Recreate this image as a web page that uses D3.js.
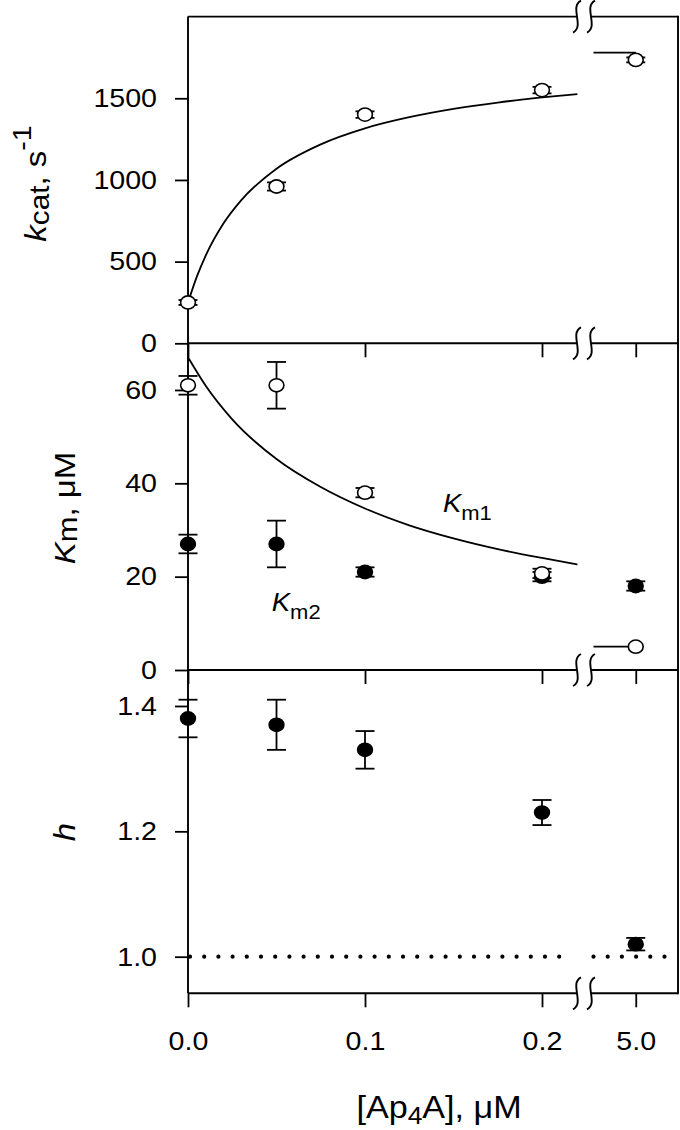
<!DOCTYPE html>
<html>
<head>
<meta charset="utf-8">
<script src="https://cdn.jsdelivr.net/npm/d3@7"></script>
<style>
  body { margin: 0; background: #fff; }
  svg { display: block; }
  text { font-family: "Liberation Sans", Arial, sans-serif; fill: #000; }
</style>
</head>
<body>
<div id="chart"></div>
<script>
// concentrations of Ap4A (uM)
const ap4a = [0, 0.05, 0.1, 0.2, 5.0]

// kcat, s-1
const kcat = [250, 960, 1400, 1550, 1735]
const kcatErr = [15, 25, 20, 20, 15]

// Km1 (open) and Km2 (filled), uM
const km1 = [61, 61, 38, 20.7, 5]
const km1Err = [2, 5, 1, 1, 0]
const km2 = [27, 27, 21, 20, 18]
const km2Err = [2, 5, 1, 1, 1]

// Hill coefficient
const hill = [1.38, 1.37, 1.33, 1.23, 1.02]
const hillErr = [0.03, 0.04, 0.03, 0.02, 0.01]

// fitted curves
const kcatFitX = [0, 0.005, 0.01, 0.02, 0.03, 0.05, 0.075, 0.1, 0.125, 0.15, 0.175, 0.2, 0.22]
const kcatFitY = [250, 408, 537, 733, 875, 1069, 1218, 1316, 1384, 1435, 1474, 1505, 1526]
const kcatFitHigh = 1780
const km1FitX = [0, 0.01, 0.025, 0.05, 0.075, 0.1, 0.125, 0.15, 0.175, 0.2, 0.22]
const km1FitY = [67, 60.9, 53.7, 45.2, 39.2, 34.6, 31.0, 28.2, 25.9, 24.0, 22.6]
const km1FitHigh = 5.0

// tick labels
const xTicksLow = [0, 0.1, 0.2]
const xTicksHigh = [5.0]
const kcatTicks = [0, 500, 1000, 1500]
const kmTicks = [0, 20, 40, 60]
const hillTicks = [1.0, 1.2, 1.4]

const width = 680
const height = 1130
const SX = 1.1 // the figure's lettering is a little wider than Arial

const svg = d3.select('#chart')
  .append('svg')
  .attr('width', width)
  .attr('height', height)

const xL = d3.scaleLinear().domain([0, 0.2]).range([188, 542])
const xR = d3.scaleLinear().domain([4.75, 5.25]).range([593.5, 678])
const xOf = v => v > 1 ? xR(v) : xL(v)

const yK = d3.scaleLinear().domain([0, 2000]).range([343.3, 16.6])
const yKm = d3.scaleLinear().domain([0, 70]).range([670, 343.3])
const yH = d3.scaleLinear().domain([0.9416, 1.4574]).range([993.3, 670])

const panels = [
  { y: yK, ticks: kcatTicks, fmt: d3.format('d') },
  { y: yKm, ticks: kmTicks, fmt: d3.format('d') },
  { y: yH, ticks: hillTicks, fmt: d3.format('.1f') }
]

const frame = svg.append('g')
const marks = svg.append('g')

panels.forEach((p, i) => {
  const last = i === panels.length - 1
  const yBottom = p.y.range()[0]

  // left axis
  const ax = frame.append('g')
    .attr('transform', 'translate(188,0)')
    .call(d3.axisLeft(p.y).tickValues(p.ticks).tickSize(13).tickPadding(18).tickFormat(p.fmt))
  ax.select('.domain').remove()
  ax.selectAll('line').attr('stroke', '#000').attr('stroke-width', 1.8)
  ax.selectAll('text')
    .style('font-size', '26px')
    .attr('x', -31 / SX)
    .attr('transform', `scale(${SX},1)`)

  // bottom ticks, both sides of the break
  ;[[xL, xTicksLow], [xR, xTicksHigh]].forEach(([sc, tv]) => {
    const bx = frame.append('g')
      .attr('transform', `translate(0,${yBottom})`)
      .call(d3.axisBottom(sc).tickValues(tv).tickSize(14).tickPadding(24.4)
        .tickFormat(last ? d3.format('.1f') : ''))
    bx.select('.domain').remove()
    bx.selectAll('line').attr('stroke', '#000').attr('stroke-width', 1.8)
    bx.selectAll('text')
      .style('font-size', '26px')
      .attr('transform', `scale(${SX},1)`)
  })
})

// frame lines
const lineY = [yK.range()[1], yK.range()[0], yKm.range()[0], yH.range()[0]]
lineY.forEach(yy => {
  frame.append('line')
    .attr('x1', 188).attr('x2', 678).attr('y1', yy).attr('y2', yy)
    .attr('stroke', '#000').attr('stroke-width', 1.9)
})
frame.append('line')
  .attr('x1', 188).attr('x2', 188).attr('y1', lineY[0]).attr('y2', lineY[3])
  .attr('stroke', '#000').attr('stroke-width', 1.9)
frame.append('line')
  .attr('x1', 678).attr('x2', 678).attr('y1', lineY[0] - 0.9).attr('y2', lineY[3] + 0.9)
  .attr('stroke', '#000').attr('stroke-width', 1.9)

// axis break marks
const breakX = [577, 591]
lineY.forEach(yy => {
  frame.append('rect')
    .attr('x', breakX[0]).attr('y', yy - 3)
    .attr('width', breakX[1] - breakX[0]).attr('height', 6)
    .attr('fill', '#fff')
  breakX.forEach(cx => {
    frame.append('path')
      .attr('d', `M${cx + 4},${yy - 16} C${cx - 8},${yy - 10} ${cx + 8},${yy + 10} ${cx - 4},${yy + 16}`)
      .attr('fill', 'none')
      .attr('stroke', '#000')
      .attr('stroke-width', 1.9)
  })
})

// dotted reference line at h = 1
;[[xL(0) + 2, xL(0.2175)], [xR.range()[0], xR.range()[1]]].forEach(([a, b]) => {
  marks.append('line')
    .attr('x1', a).attr('x2', b).attr('y1', yH(1)).attr('y2', yH(1))
    .attr('stroke', '#000')
    .attr('stroke-width', 4.2)
    .attr('stroke-linecap', 'round')
    .attr('stroke-dasharray', '0,14.2')
})

// fitted curves
const fitLine = (xs, ys, y) => d3.line()
  .x((d, i) => xL(xs[i]))
  .y(d => y(d))
  .curve(d3.curveMonotoneX)(ys)

marks.append('path')
  .attr('d', fitLine(kcatFitX, kcatFitY, yK))
  .attr('fill', 'none').attr('stroke', '#000').attr('stroke-width', 1.8)
marks.append('path')
  .attr('d', fitLine(km1FitX, km1FitY, yKm))
  .attr('fill', 'none').attr('stroke', '#000').attr('stroke-width', 1.8)
marks.append('line')
  .attr('x1', xR.range()[0]).attr('x2', xR(5)).attr('y1', yK(kcatFitHigh)).attr('y2', yK(kcatFitHigh))
  .attr('stroke', '#000').attr('stroke-width', 1.8)
marks.append('line')
  .attr('x1', xR.range()[0]).attr('x2', xR(5)).attr('y1', yKm(km1FitHigh)).attr('y2', yKm(km1FitHigh))
  .attr('stroke', '#000').attr('stroke-width', 1.8)

// error bars and symbols
function series (vals, errs, y, filled) {
  const g = marks.append('g')
  vals.forEach((v, i) => {
    const cx = xOf(ap4a[i])
    const e = errs[i]
    if (e > 0) {
      const y1 = y(v + e)
      const y2 = y(v - e)
      g.append('line').attr('x1', cx).attr('x2', cx).attr('y1', y1).attr('y2', y2)
        .attr('stroke', '#000').attr('stroke-width', 1.8)
      ;[y1, y2].forEach(yy => {
        g.append('line').attr('x1', cx - 9.5).attr('x2', cx + 9.5).attr('y1', yy).attr('y2', yy)
          .attr('stroke', '#000').attr('stroke-width', 1.8)
      })
    }
    g.append('ellipse')
      .attr('cx', cx).attr('cy', y(v))
      .attr('rx', 7.4).attr('ry', 6.6)
      .attr('fill', filled ? '#000' : '#fff')
      .attr('stroke', '#000').attr('stroke-width', 1.6)
  })
}

series(kcat, kcatErr, yK, false)
series(km2, km2Err, yKm, true)
series(km1, km1Err, yKm, false)
series(hill, hillErr, yH, true)

// in-plot labels
function subLabel (x, y, main, sub) {
  const t = svg.append('text')
    .attr('transform', `translate(${x},${y}) scale(${SX},1)`)
  t.append('tspan').style('font-size', '25px').style('font-style', 'italic').text(main)
  t.append('tspan').style('font-size', '20px').attr('dy', 8).text(sub)
}
subLabel(xL(0.144), yKm(33.9), 'K', 'm1')
subLabel(xL(0.0473), yKm(12.7), 'K', 'm2')

// y axis titles
function yTitle (x, y, build) {
  const t = svg.append('text')
    .attr('text-anchor', 'middle')
    .attr('transform', `translate(${x},${y}) rotate(-90) scale(${SX},1)`)
    .style('font-size', '30px')
  build(t)
}
yTitle(46, 183.5, t => {
  t.append('tspan').style('font-style', 'italic').text('k')
  t.append('tspan').style('font-size', '27px').attr('dy', 3).text('cat')
  t.append('tspan').attr('dy', -3).text(', s')
  t.append('tspan').attr('dy', -15).style('font-size', '26px').text('-1')
})
yTitle(75, 508, t => {
  t.append('tspan').style('font-style', 'italic').text('K')
  t.append('tspan').style('font-size', '28px').attr('dy', 2).text('m')
  t.append('tspan').attr('dy', -2).text(', \u03bcM')
})
yTitle(75, 832, t => {
  t.append('tspan').style('font-style', 'italic').text('h')
})

// x axis title
const xt = svg.append('text')
  .attr('text-anchor', 'middle')
  .attr('transform', `translate(439,1118) scale(${SX},1)`)
  .style('font-size', '31px')
xt.append('tspan').text('[Ap')
xt.append('tspan').attr('dy', 6).style('font-size', '24px').text('4')
xt.append('tspan').attr('dy', -6).text('A], \u03bcM')
</script>
</body>
</html>
